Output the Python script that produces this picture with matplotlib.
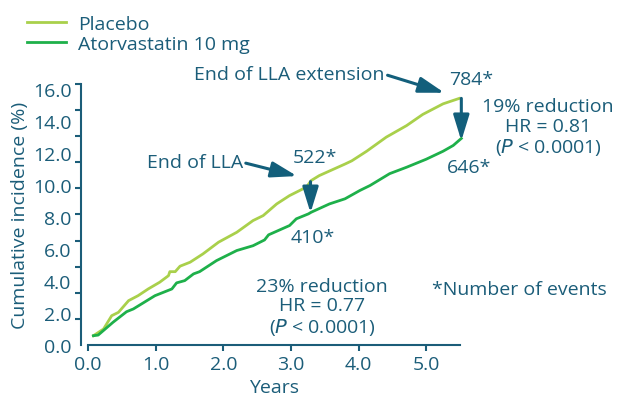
import numpy as np
import matplotlib.pyplot as plt

# data (years, cumulative incidence %)
placebo_t = [0.08, 0.23, 0.35, 0.45, 0.60, 0.74, 0.89, 1.06, 1.19, 1.21, 1.29, 1.36, 1.51,
             1.70, 1.93, 2.20, 2.44, 2.59, 2.79, 2.98, 3.23, 3.30, 3.42, 3.80, 3.90, 4.12,
             4.41, 4.71, 4.95, 5.25, 5.49]
placebo_y = [0.58, 1.00, 1.83, 2.04, 2.77, 3.08, 3.50, 3.92, 4.33, 4.58, 4.58, 4.92, 5.17,
             5.69, 6.42, 7.04, 7.77, 8.08, 8.81, 9.33, 9.86, 10.27, 10.58, 11.30, 11.50, 12.10,
             12.98, 13.70, 14.40, 15.06, 15.40]
atorva_t = [0.08, 0.15, 0.37, 0.57, 0.67, 0.99, 1.24, 1.31, 1.43, 1.56, 1.65, 1.90, 2.20,
            2.44, 2.61, 2.67, 2.98, 3.08, 3.26, 3.30, 3.57, 3.80, 4.02, 4.17, 4.46, 4.71,
            5.00, 5.25, 5.40, 5.52]
atorva_y = [0.58, 0.62, 1.42, 2.08, 2.25, 3.08, 3.50, 3.88, 4.02, 4.44, 4.58, 5.27, 5.90,
            6.20, 6.56, 6.88, 7.46, 7.88, 8.19, 8.29, 8.81, 9.13, 9.65, 9.96, 10.70, 11.10,
            11.60, 12.10, 12.46, 12.90]

series_labels = ['Placebo', 'Atorvastatin 10 mg']
x_ticks = [0, 1, 2, 3, 4, 5]
y_ticks = [0, 2, 4, 6, 8, 10, 12, 14, 16]

txt = '#1b5d79'
arr = '#135f7b'
c_plac = '#a9d04b'
c_ator = '#1eb04a'

plt.rcParams['font.family'] = ['Open Sans', 'DejaVu Sans']
fs = 14

fig = plt.figure(figsize=(6.22, 4.02), dpi=100)
ax = fig.add_axes([0.1415, 0.1393, 0.598, 0.6493])

ax.plot(placebo_t, placebo_y, color=c_plac, lw=2, clip_on=False, label=series_labels[0])
ax.plot(atorva_t, atorva_y, color=c_ator, lw=2, clip_on=False, label=series_labels[1])

ax.set_xlim(0, 5.5)
ax.set_ylim(0, 16.3)

for s in ['top', 'right']:
    ax.spines[s].set_visible(False)
ax.spines['left'].set_position(('outward', 5))
for s in ['left', 'bottom']:
    ax.spines[s].set_color(txt)
    ax.spines[s].set_linewidth(1.5)

ax.set_xticks(x_ticks)
ax.set_xticklabels(['%.1f' % v for v in x_ticks])
ax.set_yticks(y_ticks)
ax.set_yticklabels(['%.1f' % v for v in y_ticks])
ax.set_yticks(np.linspace(0, 16.3, 11), minor=True)
ax.tick_params(axis='x', colors=txt, labelsize=fs, length=4, width=1.5, pad=3)
ax.tick_params(axis='y', which='major', colors=txt, labelsize=fs, length=0, pad=7)
ax.tick_params(axis='y', which='minor', colors=txt, length=4, width=1.5)

ax.set_xlabel('Years', color=txt, fontsize=fs, labelpad=4)
ax.set_ylabel('Cumulative incidence (%)', color=txt, fontsize=fs, labelpad=3)

leg = fig.legend(loc='upper left', bbox_to_anchor=(0.015, 1.004), frameon=False,
                 fontsize=fs, handlelength=2.0, handletextpad=0.65, labelspacing=0.12)
for t in leg.get_texts():
    t.set_color(txt)

akw = dict(arrowstyle='-|>,head_length=1.3,head_width=0.4', color=arr, lw=2.2,
           shrinkA=0, shrinkB=0, mutation_scale=12)

# end of LLA extension
ax.annotate('End of LLA extension', xy=(5.27, 15.75), xytext=(2.98, 16.9),
            color=txt, fontsize=fs, ha='center', va='center', annotation_clip=False,
            arrowprops=dict(akw, relpos=(1.0, 0.5)))
ax.text(5.67, 16.6, '784*', color=txt, fontsize=fs, ha='center', va='center')
ax.annotate('', xy=(5.52, 12.75), xytext=(5.52, 15.4), annotation_clip=False,
            arrowprops=akw)
ax.text(6.8, 13.6, '19% reduction\nHR = 0.81\n($\\it{P}$ < 0.0001)', color=txt,
        fontsize=fs, ha='center', va='center', linespacing=1.1)
ax.text(5.63, 11.1, '646*', color=txt, fontsize=fs, ha='center', va='center')

# end of LLA
ax.annotate('End of LLA', xy=(3.09, 10.55), xytext=(1.58, 11.4),
            color=txt, fontsize=fs, ha='center', va='center',
            arrowprops=dict(akw, relpos=(1.0, 0.5)))
ax.text(3.35, 11.75, '522*', color=txt, fontsize=fs, ha='center', va='center')
ax.annotate('', xy=(3.29, 8.25), xytext=(3.29, 10.2), arrowprops=akw)
ax.text(3.32, 6.75, '410*', color=txt, fontsize=fs, ha='center', va='center')

ax.text(3.46, 2.37, '23% reduction\nHR = 0.77\n($\\it{P}$ < 0.0001)', color=txt,
        fontsize=fs, ha='center', va='center', linespacing=1.1)
ax.text(5.08, 3.5, '*Number of events', color=txt, fontsize=fs, ha='left', va='center')

fig.savefig('out.png', dpi=100)
